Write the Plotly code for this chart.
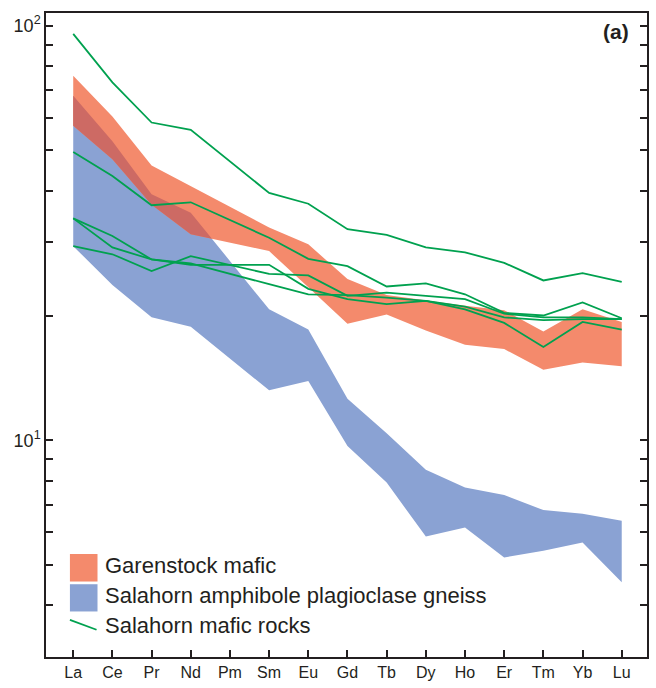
import math
import plotly.graph_objects as go

# Chondrite-normalised REE patterns
elements = ["La", "Ce", "Pr", "Nd", "Pm", "Sm", "Eu", "Gd", "Tb", "Dy", "Ho", "Er", "Tm", "Yb", "Lu"]

# Garenstock mafic field (upper / lower envelope); Pm not analysed
garenstock_max = [75.7, 60.4, 46.0, 41.0, None, 32.6, 29.7, 24.5, 22.4, 21.7, 21.1, 20.6, 18.3, 20.7, 19.3]
garenstock_min = [57.4, 47.6, 37.0, 31.4, None, 28.6, 23.4, 19.1, 20.1, 18.4, 17.0, 16.6, 14.8, 15.4, 15.1]

# Salahorn amphibole plagioclase gneiss field
gneiss_max = [67.8, 52.6, 39.2, 35.4, None, 20.7, 18.5, 12.6, 10.4, 8.50, 7.70, 7.38, 6.79, 6.65, 6.40]
gneiss_min = [29.4, 23.7, 19.8, 18.8, None, 13.2, 13.9, 9.69, 7.91, 5.86, 6.16, 5.22, 5.42, 5.67, 4.55]

# Salahorn mafic rocks, individual samples
mafic_1 = [95.5, 73.0, 58.4, 56.1, None, 39.5, 37.2, 32.3, 31.3, 29.2, 28.4, 26.8, 24.3, 25.3, 24.1]
mafic_2 = [49.6, 43.4, 36.9, 37.5, None, 30.8, 27.4, 26.3, 23.5, 23.9, 22.5, 20.3, 20.0, 21.5, 19.7]
mafic_3 = [34.3, 31.1, 27.3, 26.5, None, 26.5, 23.2, 21.9, 21.3, 21.7, 20.7, 19.2, 16.8, 19.3, 18.5]
mafic_4 = [34.3, 29.2, 27.3, 26.7, None, 23.8, 22.5, 22.4, 22.1, 21.7, 21.0, 19.8, 19.5, 19.6, 19.6]
mafic_5 = [29.4, 28.1, 25.6, 27.8, None, 25.2, 25.0, 22.3, 22.7, 22.3, 21.9, 20.2, 19.8, 19.8, 19.6]
mafic_samples = [mafic_1, mafic_2, mafic_3, mafic_4, mafic_5]

# y-axis ticks: labelled powers of ten, unlabelled intermediate multiples
ytick_major = [10, 100]
ytick_major_text = ["10<sup>1</sup>", "10<sup>2</sup>"]
ytick_minor = [4, 5, 6, 7, 8, 9, 20, 30, 40, 50, 60, 70, 80, 90]

ORANGE = "#f48a6c"
BLUE = "#8aa2d3"
OVERLAP = "#cd6a64"
GREEN = "#00a14f"
INK = "#231f20"
FONT = "Arial, Liberation Sans, sans-serif"

idx = list(range(len(elements)))


def band_polygon(upper, lower):
    """Closed outline of a field between two envelopes, skipping gaps."""
    pts = [(i, u, l) for i, u, l in zip(idx, upper, lower) if u is not None and l is not None]
    xs = [p[0] for p in pts] + [p[0] for p in reversed(pts)]
    ys = [p[1] for p in pts] + [p[2] for p in reversed(pts)]
    return xs, ys


def crossing(a0, a1, b0, b1):
    d0, d1 = a0 - b0, a1 - b1
    if d0 * d1 < 0:
        return d0 / (d0 - d1)
    return None


def overlap_polygon(up_a, lo_a, up_b, lo_b):
    """Intersection of two fields, straight segments taken in log space."""
    valid = [i for i in idx if None not in (up_a[i], lo_a[i], up_b[i], lo_b[i])]
    top, bot = [], []
    for k in range(len(valid) - 1):
        i, j = valid[k], valid[k + 1]
        ua = (math.log10(up_a[i]), math.log10(up_a[j]))
        la = (math.log10(lo_a[i]), math.log10(lo_a[j]))
        ub = (math.log10(up_b[i]), math.log10(up_b[j]))
        lb = (math.log10(lo_b[i]), math.log10(lo_b[j]))

        def at(seg, t):
            return seg[0] + (seg[1] - seg[0]) * t

        def hi(t):
            return min(at(ua, t), at(ub, t))

        def lo(t):
            return max(at(la, t), at(lb, t))

        ts = {0.0, 1.0}
        for c in (crossing(*ua, *ub), crossing(*la, *lb)):
            if c is not None:
                ts.add(c)
        ts = sorted(ts)
        extra = set()
        for t0, t1 in zip(ts[:-1], ts[1:]):
            g0, g1 = hi(t0) - lo(t0), hi(t1) - lo(t1)
            if g0 * g1 < 0:
                extra.add(t0 + (t1 - t0) * g0 / (g0 - g1))
        ts = sorted(set(ts) | extra)
        for t in ts:
            if k > 0 and t == 0.0:
                continue
            h, l_ = hi(t), lo(t)
            if h >= l_ - 1e-9:
                x = i + (j - i) * t
                top.append((x, 10 ** h))
                bot.append((x, 10 ** l_))
    xs = [p[0] for p in top] + [p[0] for p in reversed(bot)]
    ys = [p[1] for p in top] + [p[1] for p in reversed(bot)]
    return xs, ys


fig = go.Figure()

gx, gy = band_polygon(gneiss_max, gneiss_min)
fig.add_trace(go.Scatter(x=gx, y=gy, fill="toself", fillcolor=BLUE, mode="lines",
                         line=dict(width=0, color=BLUE), hoverinfo="skip",
                         name="Salahorn amphibole plagioclase gneiss"))

ox, oy = band_polygon(garenstock_max, garenstock_min)
fig.add_trace(go.Scatter(x=ox, y=oy, fill="toself", fillcolor=ORANGE, mode="lines",
                         line=dict(width=0, color=ORANGE), hoverinfo="skip",
                         name="Garenstock mafic"))

vx, vy = overlap_polygon(garenstock_max, garenstock_min, gneiss_max, gneiss_min)
fig.add_trace(go.Scatter(x=vx, y=vy, fill="toself", fillcolor=OVERLAP, mode="lines",
                         line=dict(width=0, color=OVERLAP), hoverinfo="skip",
                         name="overlap"))

for s in mafic_samples:
    fig.add_trace(go.Scatter(x=idx, y=s, mode="lines", connectgaps=True,
                             line=dict(color=GREEN, width=1.8),
                             name="Salahorn mafic rocks"))

fig.update_layout(
    width=656, height=688,
    margin=dict(l=46, r=7, t=13, b=29),
    paper_bgcolor="white", plot_bgcolor="white",
    showlegend=False,
    font=dict(family=FONT, color=INK),
    xaxis=dict(
        range=[-0.695, 14.645], tickmode="array", tickvals=idx, ticktext=elements,
        ticks="inside", ticklen=7, tickwidth=1.5, tickcolor=INK,
        showline=True, linecolor=INK, linewidth=1.5, mirror=True,
        showgrid=False, zeroline=False,
        tickfont=dict(size=16, color=INK, family=FONT),
    ),
    yaxis=dict(
        type="log", range=[0.4776, 2.0305], tickmode="array",
        tickvals=ytick_major, ticktext=ytick_major_text,
        ticks="inside", ticklen=7, tickwidth=1.5, tickcolor=INK,
        minor=dict(tickmode="array", tickvals=ytick_minor, ticks="inside",
                   ticklen=7, tickwidth=1.5, tickcolor=INK, showgrid=False),
        showline=True, linecolor=INK, linewidth=1.5, mirror="ticks",
        showgrid=False, zeroline=False,
        tickfont=dict(size=18, color=INK, family=FONT),
    ),
)

# legend drawn as swatches + labels in the lower-left corner
fig.add_shape(type="rect", xref="paper", yref="paper", x0=0.0398, x1=0.0857, y0=0.1172, y1=0.1599,
              fillcolor=ORANGE, line=dict(width=0))
fig.add_shape(type="rect", xref="paper", yref="paper", x0=0.0398, x1=0.0857, y0=0.0707, y1=0.1130,
              fillcolor=BLUE, line=dict(width=0))
fig.add_shape(type="line", xref="paper", yref="paper", x0=0.0398, x1=0.0841, y0=0.0577, y1=0.0423,
              line=dict(color=GREEN, width=1.8))
legend_labels = ["Garenstock mafic", "Salahorn amphibole plagioclase gneiss", "Salahorn mafic rocks"]
legend_y = [0.1421, 0.0957, 0.0492]
for txt, yy in zip(legend_labels, legend_y):
    fig.add_annotation(text=txt, xref="paper", yref="paper", x=0.095, y=yy,
                       xanchor="left", yanchor="middle", showarrow=False,
                       font=dict(size=22, color=INK, family=FONT))

fig.add_annotation(text="<b>(a)</b>", xref="paper", yref="paper", x=0.974, y=0.9706,
                   xanchor="right", yanchor="middle", showarrow=False,
                   font=dict(size=21, color=INK, family=FONT))

fig.write_html("out.html")
